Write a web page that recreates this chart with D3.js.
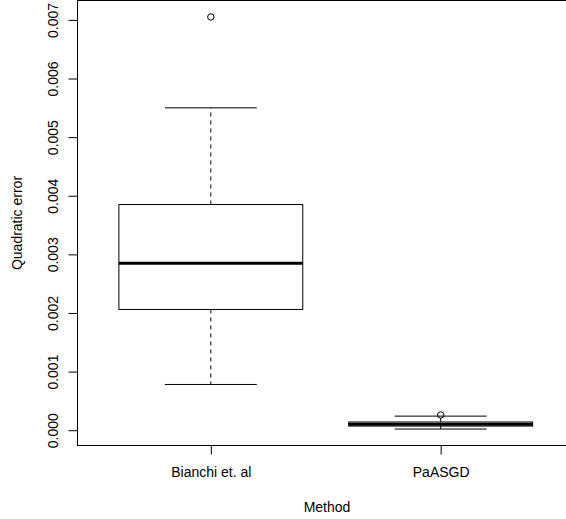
<!DOCTYPE html>
<html>
<head>
<meta charset="utf-8">
<script src="https://cdn.jsdelivr.net/npm/d3@7"></script>
<style>
  body { margin: 0; background: #fff; }
  svg { display: block; font-family: "Liberation Sans", Arial, Helvetica, sans-serif; }
  .axis path, .axis line { stroke: #000; }
  .axis text { fill: #000; font-size: 14px; }
</style>
</head>
<body>
<svg class="chart"></svg>
<script>
/* global d3 */

// Box summaries
var methods = ["Bianchi et. al", "PaASGD"];
var lowerWhisker = [0.00078, 0.00002];
var lowerQuartile = [0.00206, 0.00007];
var medians = [0.00285, 0.00010];
var upperQuartile = [0.00385, 0.00014];
var upperWhisker = [0.00550, 0.00024];
var outliers = [[0.00705], [0.00026]];
var yTicks = [0, 0.001, 0.002, 0.003, 0.004, 0.005, 0.006, 0.007];

var chartWidth = 566, chartHeight = 519;
// plot region (right edge runs past the window, like the original)
var plotLeft = 77.5, plotRight = 574, plotTop = 0.5, plotBottom = 445.5;

var chart = d3.select(".chart")
    .attr("width", chartWidth)
    .attr("height", chartHeight);

// R-style 4% padding around the data range
var allVals = lowerWhisker.concat(upperWhisker, d3.merge(outliers));
var lo = d3.min(allVals), hi = d3.max(allVals);
var pad = (hi - lo) * 0.04;

var x = d3.scaleLinear()
    .domain([0.5 - 0.08, methods.length + 0.5 + 0.08])
    .range([plotLeft, plotRight]);
var y = d3.scaleLinear()
    .domain([lo - pad, hi + pad])
    .range([plotBottom, plotTop]);

var data = methods.map(function(m, i) {
    return {
        name: m, pos: i + 1,
        lw: lowerWhisker[i], q1: lowerQuartile[i], med: medians[i],
        q3: upperQuartile[i], uw: upperWhisker[i], out: outliers[i]
    };
});

// Y axis
var yAxis = d3.axisLeft(y)
    .tickValues(yTicks)
    .tickSize(9)
    .tickFormat(d3.format(".3f"));

var gy = chart.append("g")
    .attr("class", "axis")
    .attr("transform", "translate(" + plotLeft + ",0)")
    .call(yAxis);
gy.select(".domain").remove();
gy.selectAll(".tick text")
    .attr("x", 0).attr("dy", 0)
    .attr("text-anchor", "middle")
    .attr("transform", "translate(-20,0) rotate(-90)");

// X axis
var xAxis = d3.axisBottom(x)
    .tickValues(data.map(function(d) { return d.pos; }))
    .tickSize(9)
    .tickFormat(function(d) { return methods[d - 1]; });

var gx = chart.append("g")
    .attr("class", "axis")
    .attr("transform", "translate(0," + plotBottom + ")")
    .call(xAxis);
gx.select(".domain").remove();
gx.selectAll(".tick text").attr("y", 22).attr("dy", "0.71em");

// Frame
chart.append("rect")
    .attr("x", plotLeft).attr("y", plotTop)
    .attr("width", plotRight - plotLeft).attr("height", plotBottom - plotTop)
    .attr("fill", "none")
    .attr("stroke", "#000");

// Axis titles
chart.append("text")
    .attr("x", 327)
    .attr("y", 512)
    .attr("text-anchor", "middle")
    .style("font-size", "14px")
    .text("Method");

chart.append("text")
    .attr("transform", "translate(22," + ((plotTop + plotBottom) / 2) + ") rotate(-90)")
    .attr("text-anchor", "middle")
    .style("font-size", "14px")
    .text("Quadratic error");

// Boxes
var box = chart.selectAll(".box")
        .data(data)
    .enter().append("g")
        .attr("class", "box");

// dashed whiskers
box.append("line")
    .attr("x1", function(d) { return x(d.pos); })
    .attr("x2", function(d) { return x(d.pos); })
    .attr("y1", function(d) { return y(d.q3); })
    .attr("y2", function(d) { return y(d.uw); })
    .attr("stroke", "#000").attr("stroke-dasharray", "4,4");
box.append("line")
    .attr("x1", function(d) { return x(d.pos); })
    .attr("x2", function(d) { return x(d.pos); })
    .attr("y1", function(d) { return y(d.q1); })
    .attr("y2", function(d) { return y(d.lw); })
    .attr("stroke", "#000").attr("stroke-dasharray", "4,4");

// whisker caps
["uw", "lw"].forEach(function(k) {
    box.append("line")
        .attr("x1", function(d) { return x(d.pos - 0.2); })
        .attr("x2", function(d) { return x(d.pos + 0.2); })
        .attr("y1", function(d) { return y(d[k]); })
        .attr("y2", function(d) { return y(d[k]); })
        .attr("stroke", "#000");
});

// box body
box.append("rect")
    .attr("x", function(d) { return x(d.pos - 0.4); })
    .attr("width", x(1.4) - x(0.6))
    .attr("y", function(d) { return y(d.q3); })
    .attr("height", function(d) { return y(d.q1) - y(d.q3); })
    .attr("fill", "none")
    .attr("stroke", "#000");

// median
box.append("line")
    .attr("x1", function(d) { return x(d.pos - 0.4); })
    .attr("x2", function(d) { return x(d.pos + 0.4); })
    .attr("y1", function(d) { return y(d.med); })
    .attr("y2", function(d) { return y(d.med); })
    .attr("stroke", "#000")
    .attr("stroke-width", 3);

// outliers
box.selectAll(".out")
        .data(function(d) { return d.out.map(function(v) { return { pos: d.pos, v: v }; }); })
    .enter().append("circle")
        .attr("class", "out")
        .attr("cx", function(d) { return x(d.pos); })
        .attr("cy", function(d) { return y(d.v); })
        .attr("r", 3.2)
        .attr("fill", "none")
        .attr("stroke", "#000");
</script>
</body>
</html>
